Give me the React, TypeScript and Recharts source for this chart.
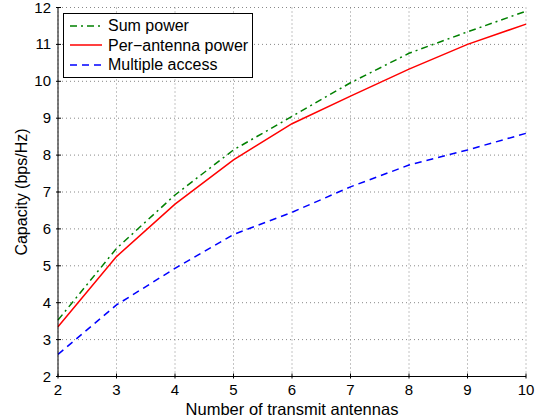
import React from 'react';
import { LineChart, Line, XAxis, YAxis, CartesianGrid } from 'recharts';

const antennas = [2, 3, 4, 5, 6, 7, 8, 9, 10];
const sumPower = [3.53, 5.47, 6.92, 8.14, 9.05, 9.96, 10.76, 11.34, 11.9];
const perAntenna = [3.35, 5.25, 6.67, 7.87, 8.85, 9.6, 10.33, 11.0, 11.55];
const multipleAccess = [2.6, 3.94, 4.93, 5.85, 6.45, 7.14, 7.73, 8.14, 8.59];
const xTicks = [2, 3, 4, 5, 6, 7, 8, 9, 10];
const yTicks = [2, 3, 4, 5, 6, 7, 8, 9, 10, 11, 12];

const data = antennas.map((x, i) => ({
  x,
  sum: sumPower[i],
  per: perAntenna[i],
  ma: multipleAccess[i],
}));

const FONT = '"Liberation Sans", Arial, Helvetica, sans-serif';

const series = [
  { key: 'sum', name: 'Sum power', color: '#008000', dash: '7 4 2 4' },
  { key: 'per', name: 'Per\u2212antenna power', color: '#ff0000', dash: undefined },
  { key: 'ma', name: 'Multiple access', color: '#0000ff', dash: '7 5' },
];

const XTick = (props: any) => {
  const { x, y, payload, showText, dir } = props;
  return (
    <g>
      <line x1={x} x2={x} y1={y} y2={y + dir * 5} stroke="#000" strokeWidth={1} />
      {showText && (
        <text x={x} y={y + 16} textAnchor="middle" fontSize={15} fontFamily={FONT} fill="#000">
          {payload.value}
        </text>
      )}
    </g>
  );
};

const YTick = (props: any) => {
  const { x, y, payload, showText, dir } = props;
  return (
    <g>
      <line x1={x} x2={x + dir * 5} y1={y} y2={y} stroke="#000" strokeWidth={1} />
      {showText && (
        <text x={x - 5} y={y} dy={5} textAnchor="end" fontSize={15} fontFamily={FONT} fill="#000">
          {payload.value}
        </text>
      )}
    </g>
  );
};

const LegendBox = () => (
  <div
    style={{
      position: 'absolute',
      left: 63,
      top: 13,
      border: '1px solid #000',
      background: '#fff',
      padding: '2px 4px 2px 5px',
      fontFamily: FONT,
      fontSize: 16,
      color: '#000',
      lineHeight: '19.5px',
    }}
  >
    {series.map((s) => (
      <div key={s.key} style={{ display: 'flex', alignItems: 'center', height: 19.5, whiteSpace: 'nowrap' }}>
        <svg width={34} height={10} style={{ marginRight: 5 }}>
          <line x1={1} x2={33} y1={5} y2={5} stroke={s.color} strokeWidth={1.5} strokeDasharray={s.dash} />
        </svg>
        <span>{s.name}</span>
      </div>
    ))}
  </div>
);

const YLabel = (props: any) => {
  const { viewBox } = props;
  const cx = viewBox.x + 3.5;
  const cy = viewBox.y + viewBox.height / 2;
  return (
    <text
      x={cx}
      y={cy}
      transform={`rotate(-90 ${cx} ${cy})`}
      textAnchor="middle"
      dominantBaseline="central"
      fontSize={16}
      fontFamily={FONT}
      fill="#000"
    >
      Capacity (bps/Hz)
    </text>
  );
};

export default function App() {
  return (
    <div style={{ position: 'absolute', left: 0, top: 0, width: 546, height: 419, background: '#fff' }}>
      <LineChart width={546} height={419} data={data} margin={{ top: 7.5, right: 20, left: 18, bottom: 2.5 }}>
        <CartesianGrid stroke="#888" strokeDasharray="1 3" strokeWidth={1} />
        <XAxis
          xAxisId={0}
          type="number"
          dataKey="x"
          domain={[2, 10]}
          ticks={xTicks}
          height={40}
          tickSize={0}
          tickLine={false}
          axisLine={{ stroke: '#000' }}
          tick={<XTick showText dir={-1} />}
          interval={0}
          label={{
            value: 'Number of transmit antennas',
            position: 'insideBottom',
            offset: 2,
            fontSize: 16.5,
            fontFamily: FONT,
            fill: '#000',
          }}
        />
        <XAxis
          xAxisId="top"
          orientation="top"
          type="number"
          dataKey="x"
          domain={[2, 10]}
          ticks={xTicks}
          height={0}
          tickSize={0}
          tickLine={false}
          axisLine={{ stroke: '#000' }}
          tick={<XTick dir={1} />}
          interval={0}
        />
        <YAxis
          yAxisId={0}
          type="number"
          domain={[2, 12]}
          ticks={yTicks}
          width={40}
          tickSize={0}
          tickLine={false}
          axisLine={{ stroke: '#000' }}
          tick={<YTick showText dir={1} />}
          interval={0}
          label={<YLabel />}
        />
        <YAxis
          yAxisId="right"
          orientation="right"
          type="number"
          domain={[2, 12]}
          ticks={yTicks}
          width={0}
          tickSize={0}
          tickLine={false}
          axisLine={{ stroke: '#000' }}
          tick={<YTick dir={-1} />}
          interval={0}
        />
        {series.map((s) => (
          <Line
            key={s.key}
            xAxisId={0}
            yAxisId={0}
            type="linear"
            dataKey={s.key}
            name={s.name}
            stroke={s.color}
            strokeWidth={1.5}
            strokeDasharray={s.dash}
            dot={false}
            activeDot={false}
            isAnimationActive={false}
          />
        ))}
      </LineChart>
      <LegendBox />
    </div>
  );
}
